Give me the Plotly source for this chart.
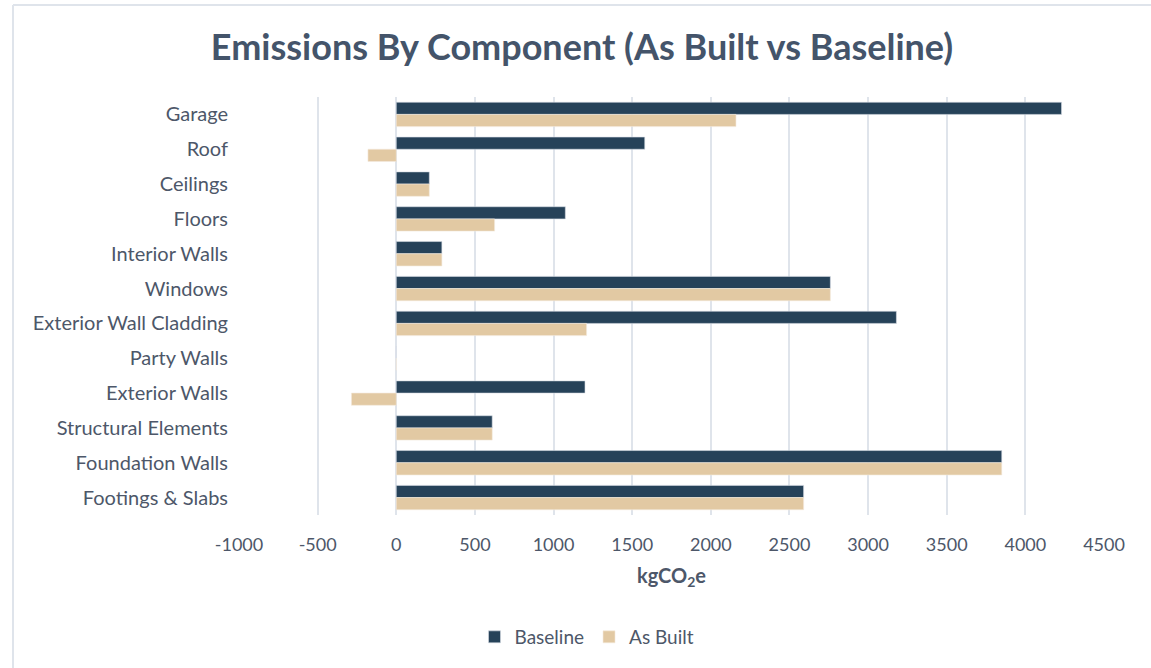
import plotly.graph_objects as go

# Emissions per building component, kgCO2e
components = [
    "Garage", "Roof", "Ceilings", "Floors", "Interior Walls", "Windows",
    "Exterior Wall Cladding", "Party Walls", "Exterior Walls",
    "Structural Elements", "Foundation Walls", "Footings & Slabs",
]
baseline = [4230, 1580, 210, 1075, 290, 2760, 3180, 0, 1200, 610, 3850, 2590]
as_built = [2160, -180, 210, 625, 290, 2760, 1210, 0, -285, 610, 3850, 2590]

x_ticks = [-1000, -500, 0, 500, 1000, 1500, 2000, 2500, 3000, 3500, 4000, 4500]

W, H = 1151, 668
L, R, T, B = 239, 47, 97, 153
pw, ph = W - L - R, H - T - B

FONT = "Lato, Open Sans, sans-serif"
TEXT = "#4d5769"
GRID = "#dfe4eb"


def px_to_paper_x(px):
    return (px - L) / pw


def px_to_paper_y(py):
    return (H - B - py) / ph


fig = go.Figure()
fig.add_trace(go.Bar(
    y=components, x=baseline, orientation="h", name="Baseline",
    marker=dict(color="#264259", line=dict(color="#d9dee5", width=0.6)),
))
fig.add_trace(go.Bar(
    y=components, x=as_built, orientation="h", name="As Built",
    marker=dict(color="#e2c9a3", line=dict(color="#f3eadb", width=0.6)),
))

# chart frame (top and left edges)
fx, fy = px_to_paper_x(13), px_to_paper_y(5)
fig.add_shape(type="line", xref="paper", yref="paper",
              x0=fx, x1=fx, y0=px_to_paper_y(H + 20), y1=fy,
              line=dict(color=GRID, width=2))
fig.add_shape(type="line", xref="paper", yref="paper",
              x0=fx, x1=px_to_paper_x(W + 20), y0=fy, y1=fy,
              line=dict(color=GRID, width=2))

fig.update_layout(
    width=W, height=H,
    margin=dict(l=L, r=R, t=T, b=B),
    paper_bgcolor="white", plot_bgcolor="white",
    barmode="group", bargap=0.3, bargroupgap=0,
    font=dict(family=FONT, color=TEXT, size=19),
    title=dict(
        text="<b>Emissions By Component (As Built vs Baseline)</b>",
        x=582 / W, xanchor="center",
        y=1 - 47 / H, yanchor="middle",
        font=dict(family=FONT, size=36, color="#44546a"),
    ),
    xaxis=dict(
        range=[-1000, 4500], tickvals=x_ticks,
        ticktext=[str(v) for v in x_ticks],
        showgrid=True, gridcolor=GRID, gridwidth=2,
        zeroline=True, zerolinecolor=GRID, zerolinewidth=2,
        showline=False, ticks="", ticklabelstandoff=17,
        tickfont=dict(size=18, color=TEXT),
        title=dict(text="<b>kgCO<sub>2</sub>e</b>", standoff=14,
                   font=dict(size=20, color=TEXT)),
    ),
    yaxis=dict(
        autorange="reversed", showgrid=False, showline=False, ticks="",
        ticklabelstandoff=10, tickfont=dict(size=20, color=TEXT),
    ),
    legend=dict(
        orientation="h", xanchor="center", x=px_to_paper_x(587),
        yanchor="middle", y=px_to_paper_y(637),
        font=dict(size=19, color=TEXT), itemwidth=30,
        traceorder="normal",
    ),
    showlegend=True,
)

fig.write_html("out.html")
